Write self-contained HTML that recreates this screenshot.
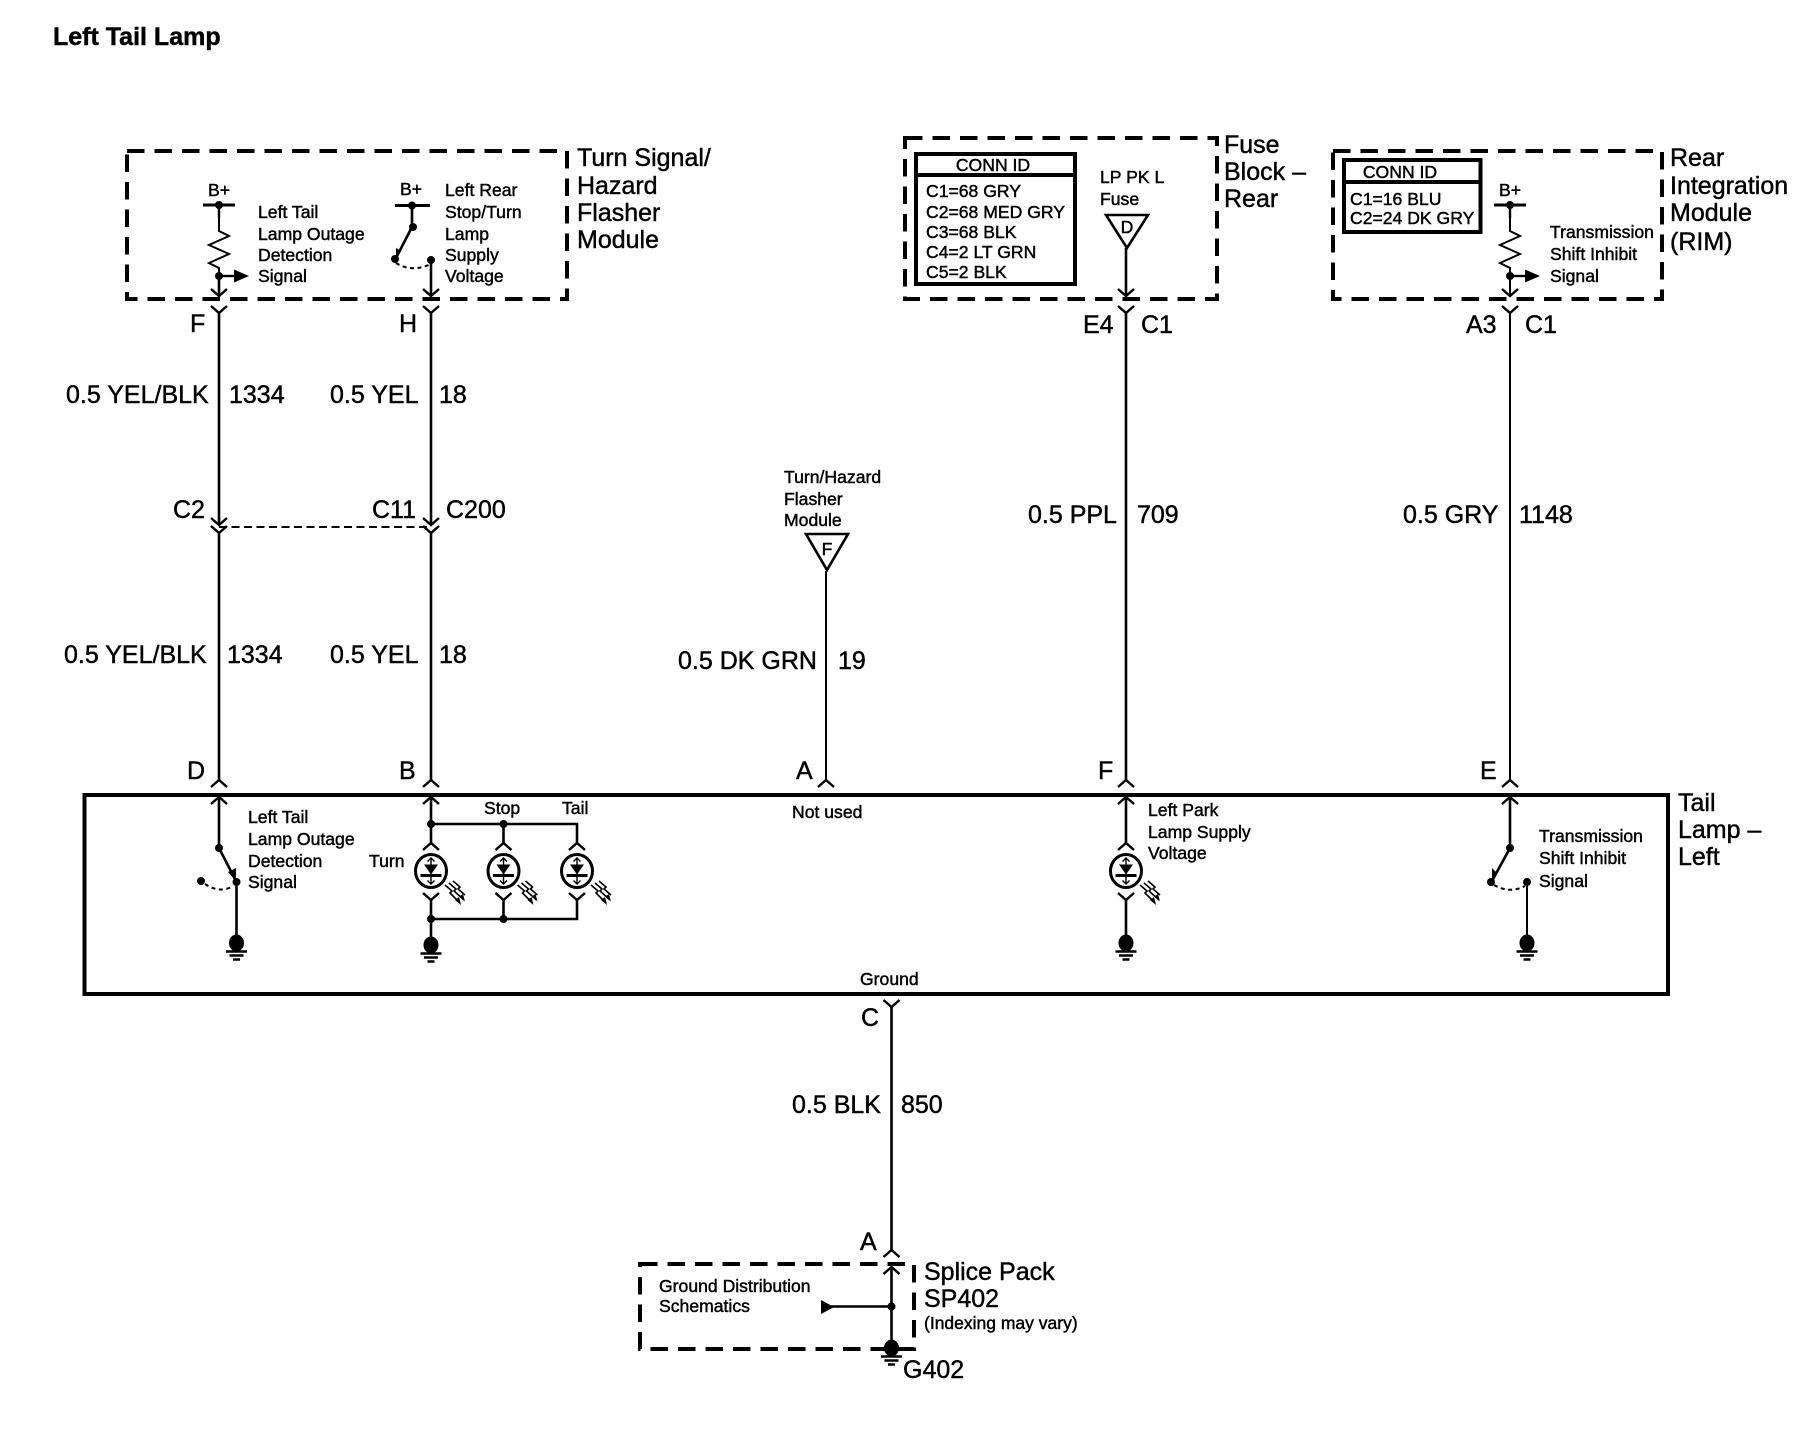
<!DOCTYPE html>
<html>
<head>
<meta charset="utf-8">
<title>Left Tail Lamp</title>
<style>
html,body{margin:0;padding:0;background:#fff;}
svg{display:block;}
text{font-family:"Liberation Sans",Arial,sans-serif;fill:#000;stroke:#000;stroke-width:.45px;}
.s{font-size:17.6px;}
.m{font-size:25px;}
.w{fill:none;stroke:#000;stroke-width:2.6;}
.t{fill:none;stroke:#000;stroke-width:2;}
.d{fill:none;stroke:#000;stroke-width:4;stroke-dasharray:17.5 10;}
.b{fill:none;stroke:#000;stroke-width:4;}
.a{fill:none;stroke:#000;stroke-width:2;stroke-dasharray:4 3.5;}
.f{fill:#000;stroke:none;}
</style>
</head>
<body>
<svg width="1812" height="1440" viewBox="0 0 1812 1440" xmlns="http://www.w3.org/2000/svg">
<defs>
<path id="v" d="M-8,-7 L0,0 L8,-7" fill="none" stroke="#000" stroke-width="2.4"/>
<path id="u" d="M-8,7 L0,0 L8,7" fill="none" stroke="#000" stroke-width="2.4"/>
<g id="gnd">
<ellipse cx="0" cy="1" rx="7.5" ry="8.5" fill="#000"/>
<path d="M-10.5,9.5H10.5M-7,13.5H7M-3.5,17.5H3.5" stroke="#000" stroke-width="2.4" fill="none"/>
</g>
<g id="lamp">
<use href="#u" x="0" y="-28"/>
<ellipse cx="0" cy="0" rx="15.5" ry="16.5" fill="#fff" stroke="#000" stroke-width="3"/>
<path d="M-7,-6.500 H7 L0,3.500 Z" fill="#000"/>
<path d="M-10.500,4.500H10.500" stroke="#000" stroke-width="3"/>
<path d="M0,-13V13M-3.500,-9.500L0,-13L3.500,-9.500M-3.500,9.500L0,13L3.500,9.500" stroke="#000" stroke-width="1.400" fill="none"/>
<use href="#v" x="0" y="29"/>
<path d="M14,14 L21,20 L19,22 L29,32M18,12 L25,18 L23,20 L33,29M22,10 L29,16 L27,18 L34,24" stroke="#000" stroke-width="1.600" fill="none"/>
<path d="M30,34 L24,29 L28,26 Z M34,30.500 L29,25 L32,23 Z" fill="#000"/>
</g>
<g id="zig">
<path d="M0,0 V13 L10,18 L-10,27 L10,36 L-10,45 L0,50 V78" class="t" fill="none"/>
<circle cx="0" cy="-13" r="4" fill="#000"/>
<path d="M-16,-13 H16" stroke="#000" stroke-width="3"/>
<path d="M0,-13V0" stroke="#000" stroke-width="2.4"/>
<circle cx="0" cy="58" r="4" fill="#000"/>
<path d="M0,58 H16" stroke="#000" stroke-width="2.4"/>
<path d="M15,51.500 L30,58 L15,64.500 Z" fill="#000"/>
</g>
</defs>

<rect width="1812" height="1440" fill="#fff"/>

<text x="53" y="45" font-size="25" font-weight="700">Left Tail Lamp</text>

<!-- Dashed component boxes -->
<rect class="d" x="127" y="151" width="440" height="148"/>
<rect class="d" x="905" y="138" width="312" height="161"/>
<rect class="d" x="1333" y="151" width="329" height="148"/>
<rect class="d" x="640" y="1264" width="274" height="85"/>

<!-- Main box -->
<rect class="b" x="84.500" y="795" width="1583.500" height="199"/>

<!-- Wires -->
<path class="w" d="M219,276V296M219,313V525M219,533V780"/>
<path class="w" d="M431,260V296M431,313V525M431,533V780"/>
<path class="t" d="M826,571V780"/>
<path class="w" d="M1126,248V296M1126,313V780"/>
<path class="t" d="M1510,313V780"/>
<path class="w" d="M891.500,1007V1250M891.500,1267V1348"/>
<path d="M219,527 H431" stroke="#000" stroke-width="2" stroke-dasharray="8 4.500"/>

<use href="#v" x="219" y="296"/><use href="#v" x="219" y="313"/>
<use href="#v" x="219" y="525"/><use href="#v" x="219" y="533"/>
<use href="#u" x="219" y="780"/><use href="#u" x="219" y="797"/>
<use href="#v" x="431" y="296"/><use href="#v" x="431" y="313"/>
<use href="#v" x="431" y="525"/><use href="#v" x="431" y="533"/>
<use href="#u" x="431" y="780"/><use href="#u" x="431" y="797"/>
<use href="#u" x="826" y="780"/>
<use href="#v" x="1126" y="296"/><use href="#v" x="1126" y="313"/>
<use href="#u" x="1126" y="780"/><use href="#u" x="1126" y="797"/>
<use href="#v" x="1510" y="296"/><use href="#v" x="1510" y="313"/>
<use href="#u" x="1510" y="780"/><use href="#u" x="1510" y="797"/>
<use href="#v" x="891.500" y="1007"/>
<use href="#u" x="891.500" y="1250"/><use href="#u" x="891.500" y="1267"/>

<!-- Turn signal module -->
<text class="s" x="208" y="196">B+</text>
<use href="#zig" x="219" y="218"/>
<text class="s" x="258" y="218">Left Tail</text>
<text class="s" x="258" y="240">Lamp Outage</text>
<text class="s" x="258" y="261">Detection</text>
<text class="s" x="258" y="282">Signal</text>

<text class="s" x="400" y="195">B+</text>
<path d="M395,205.500H430" stroke="#000" stroke-width="3"/>
<circle cx="412" cy="205.500" r="4" class="f"/>
<path class="w" d="M412,205V227L396,258"/>
<circle cx="413" cy="227" r="4" class="f"/>
<circle cx="395" cy="259" r="4" class="f"/>
<circle cx="431" cy="260" r="4" class="f"/>
<path d="M401,251L396,258L396,248Z" class="f"/>
<path class="a" d="M396,263Q412,273 431,264"/>
<text class="s" x="445" y="196">Left Rear</text>
<text class="s" x="445" y="218">Stop/Turn</text>
<text class="s" x="445" y="240">Lamp</text>
<text class="s" x="445" y="261">Supply</text>
<text class="s" x="445" y="282">Voltage</text>

<text class="m" x="577" y="166">Turn Signal/</text>
<text class="m" x="577" y="194">Hazard</text>
<text class="m" x="577" y="221">Flasher</text>
<text class="m" x="577" y="248">Module</text>

<!-- Fuse block -->
<rect class="b" x="916" y="154" width="159" height="130"/>
<path class="b" d="M916,175H1075"/>
<text class="s" x="993" y="171" text-anchor="middle">CONN ID</text>
<text class="s" x="926" y="197">C1=68 GRY</text>
<text class="s" x="926" y="218">C2=68 MED GRY</text>
<text class="s" x="926" y="238">C3=68 BLK</text>
<text class="s" x="926" y="258">C4=2 LT GRN</text>
<text class="s" x="926" y="278">C5=2 BLK</text>
<text class="s" x="1100" y="183">LP PK L</text>
<text class="s" x="1100" y="205">Fuse</text>
<path d="M1106,215H1148L1127,248Z" fill="#fff" stroke="#000" stroke-width="2.600"/>
<text class="s" x="1127" y="233" text-anchor="middle">D</text>
<text class="m" x="1224" y="153">Fuse</text>
<text class="m" x="1224" y="180">Block –</text>
<text class="m" x="1224" y="207">Rear</text>

<!-- RIM -->
<rect class="b" x="1344" y="160" width="136.500" height="72"/>
<path class="b" d="M1344,182H1480.500"/>
<text class="s" x="1400" y="178" text-anchor="middle">CONN ID</text>
<text class="s" x="1350" y="205">C1=16 BLU</text>
<text class="s" x="1350" y="224">C2=24 DK GRY</text>
<text class="s" x="1499" y="196">B+</text>
<use href="#zig" x="1510" y="218"/>
<text class="s" x="1550" y="238">Transmission</text>
<text class="s" x="1550" y="260">Shift Inhibit</text>
<text class="s" x="1550" y="282">Signal</text>
<text class="m" x="1670" y="166">Rear</text>
<text class="m" x="1670" y="194">Integration</text>
<text class="m" x="1670" y="221">Module</text>
<text class="m" x="1670" y="250">(RIM)</text>

<!-- Connector letters top -->
<text class="m" x="190" y="332">F</text>
<text class="m" x="399" y="332">H</text>
<text class="m" x="1083" y="333">E4</text>
<text class="m" x="1141" y="333">C1</text>
<text class="m" x="1466" y="333">A3</text>
<text class="m" x="1525" y="333">C1</text>

<!-- Wire labels -->
<text class="m" x="66" y="403">0.5 YEL/BLK</text>
<text class="m" x="229" y="403">1334</text>
<text class="m" x="330" y="403">0.5 YEL</text>
<text class="m" x="439" y="403">18</text>
<text class="m" x="173" y="518">C2</text>
<text class="m" x="372" y="518">C11</text>
<text class="m" x="446" y="518">C200</text>
<text class="m" x="64" y="663">0.5 YEL/BLK</text>
<text class="m" x="227" y="663">1334</text>
<text class="m" x="330" y="663">0.5 YEL</text>
<text class="m" x="439" y="663">18</text>

<text class="s" x="784" y="483">Turn/Hazard</text>
<text class="s" x="784" y="505">Flasher</text>
<text class="s" x="784" y="526">Module</text>
<path d="M806,534H848L827,570Z" fill="#fff" stroke="#000" stroke-width="2.600"/>
<text class="s" x="827" y="555" text-anchor="middle">F</text>
<text class="m" x="678" y="669">0.5 DK GRN</text>
<text class="m" x="838" y="669">19</text>
<text class="m" x="1028" y="523">0.5 PPL</text>
<text class="m" x="1137" y="523">709</text>
<text class="m" x="1403" y="523">0.5 GRY</text>
<text class="m" x="1519" y="523">1148</text>

<text class="m" x="187" y="779">D</text>
<text class="m" x="399" y="779">B</text>
<text class="m" x="796" y="779">A</text>
<text class="m" x="1098" y="779">F</text>
<text class="m" x="1480" y="779">E</text>

<!-- Tail lamp internals: left switch -->
<path class="w" d="M219,797V848L236,881"/>
<circle cx="219" cy="848" r="4" class="f"/>
<path d="M228,872L236,881L236,868Z" class="f"/>
<circle cx="236.500" cy="882" r="4" class="f"/>
<circle cx="201" cy="881" r="4" class="f"/>
<path class="a" d="M205,884Q220,894 233,886"/>
<path class="w" d="M236.500,882V942"/>
<use href="#gnd" x="236.500" y="942"/>
<text class="s" x="248" y="823">Left Tail</text>
<text class="s" x="248" y="845">Lamp Outage</text>
<text class="s" x="248" y="867">Detection</text>
<text class="s" x="248" y="888">Signal</text>

<!-- Lamps -->
<path class="w" d="M431,824H577V843M503.500,824V843M431,919H577V900M503.500,919V900M431,900V944"/>
<path class="w" d="M431,797V843"/>
<circle cx="431" cy="824" r="4" class="f"/>
<circle cx="503.500" cy="824" r="4" class="f"/>
<circle cx="431" cy="919" r="4" class="f"/>
<circle cx="503.500" cy="919" r="4" class="f"/>
<use href="#lamp" x="431" y="871"/>
<use href="#lamp" x="503.500" y="871"/>
<use href="#lamp" x="577" y="871"/>
<use href="#gnd" x="431" y="944"/>
<text class="s" x="484" y="814">Stop</text>
<text class="s" x="562" y="814">Tail</text>
<text class="s" x="369" y="867">Turn</text>

<text class="s" x="792" y="818">Not used</text>

<path class="w" d="M1126,843V797M1126,900V942"/>
<use href="#lamp" x="1126" y="871"/>
<use href="#gnd" x="1126" y="942"/>
<text class="s" x="1148" y="816">Left Park</text>
<text class="s" x="1148" y="838">Lamp Supply</text>
<text class="s" x="1148" y="859">Voltage</text>

<!-- Right switch -->
<path class="w" d="M1510,797V848L1492,881"/>
<circle cx="1510" cy="848" r="4" class="f"/>
<circle cx="1491" cy="882" r="4" class="f"/>
<circle cx="1527" cy="882" r="4" class="f"/>
<path d="M1497,873L1492,881L1492,868Z" class="f"/>
<path class="a" d="M1494,885Q1510,894 1525,886"/>
<path class="t" d="M1527,881V942"/>
<use href="#gnd" x="1527" y="942"/>
<text class="s" x="1539" y="842">Transmission</text>
<text class="s" x="1539" y="864">Shift Inhibit</text>
<text class="s" x="1539" y="887">Signal</text>

<text class="m" x="1678" y="811">Tail</text>
<text class="m" x="1678" y="838">Lamp –</text>
<text class="m" x="1678" y="865">Left</text>

<!-- Ground wire -->
<text class="s" x="860" y="985">Ground</text>
<text class="m" x="861" y="1026">C</text>
<text class="m" x="792" y="1113">0.5 BLK</text>
<text class="m" x="901" y="1113">850</text>
<text class="m" x="860" y="1250">A</text>

<!-- Splice pack -->
<text class="s" x="659" y="1292">Ground Distribution</text>
<text class="s" x="659" y="1312">Schematics</text>
<path d="M821,1300V1314L834,1307Z" class="f"/>
<path class="w" d="M830,1306.500H891.500"/>
<circle cx="891.500" cy="1306.500" r="4" class="f"/>
<use href="#gnd" x="891.500" y="1347"/>
<text class="m" x="924" y="1280">Splice Pack</text>
<text class="m" x="924" y="1307">SP402</text>
<text font-size="17.5" x="924" y="1329">(Indexing may vary)</text>
<text class="m" x="903" y="1378">G402</text>
</svg>
</body>
</html>
